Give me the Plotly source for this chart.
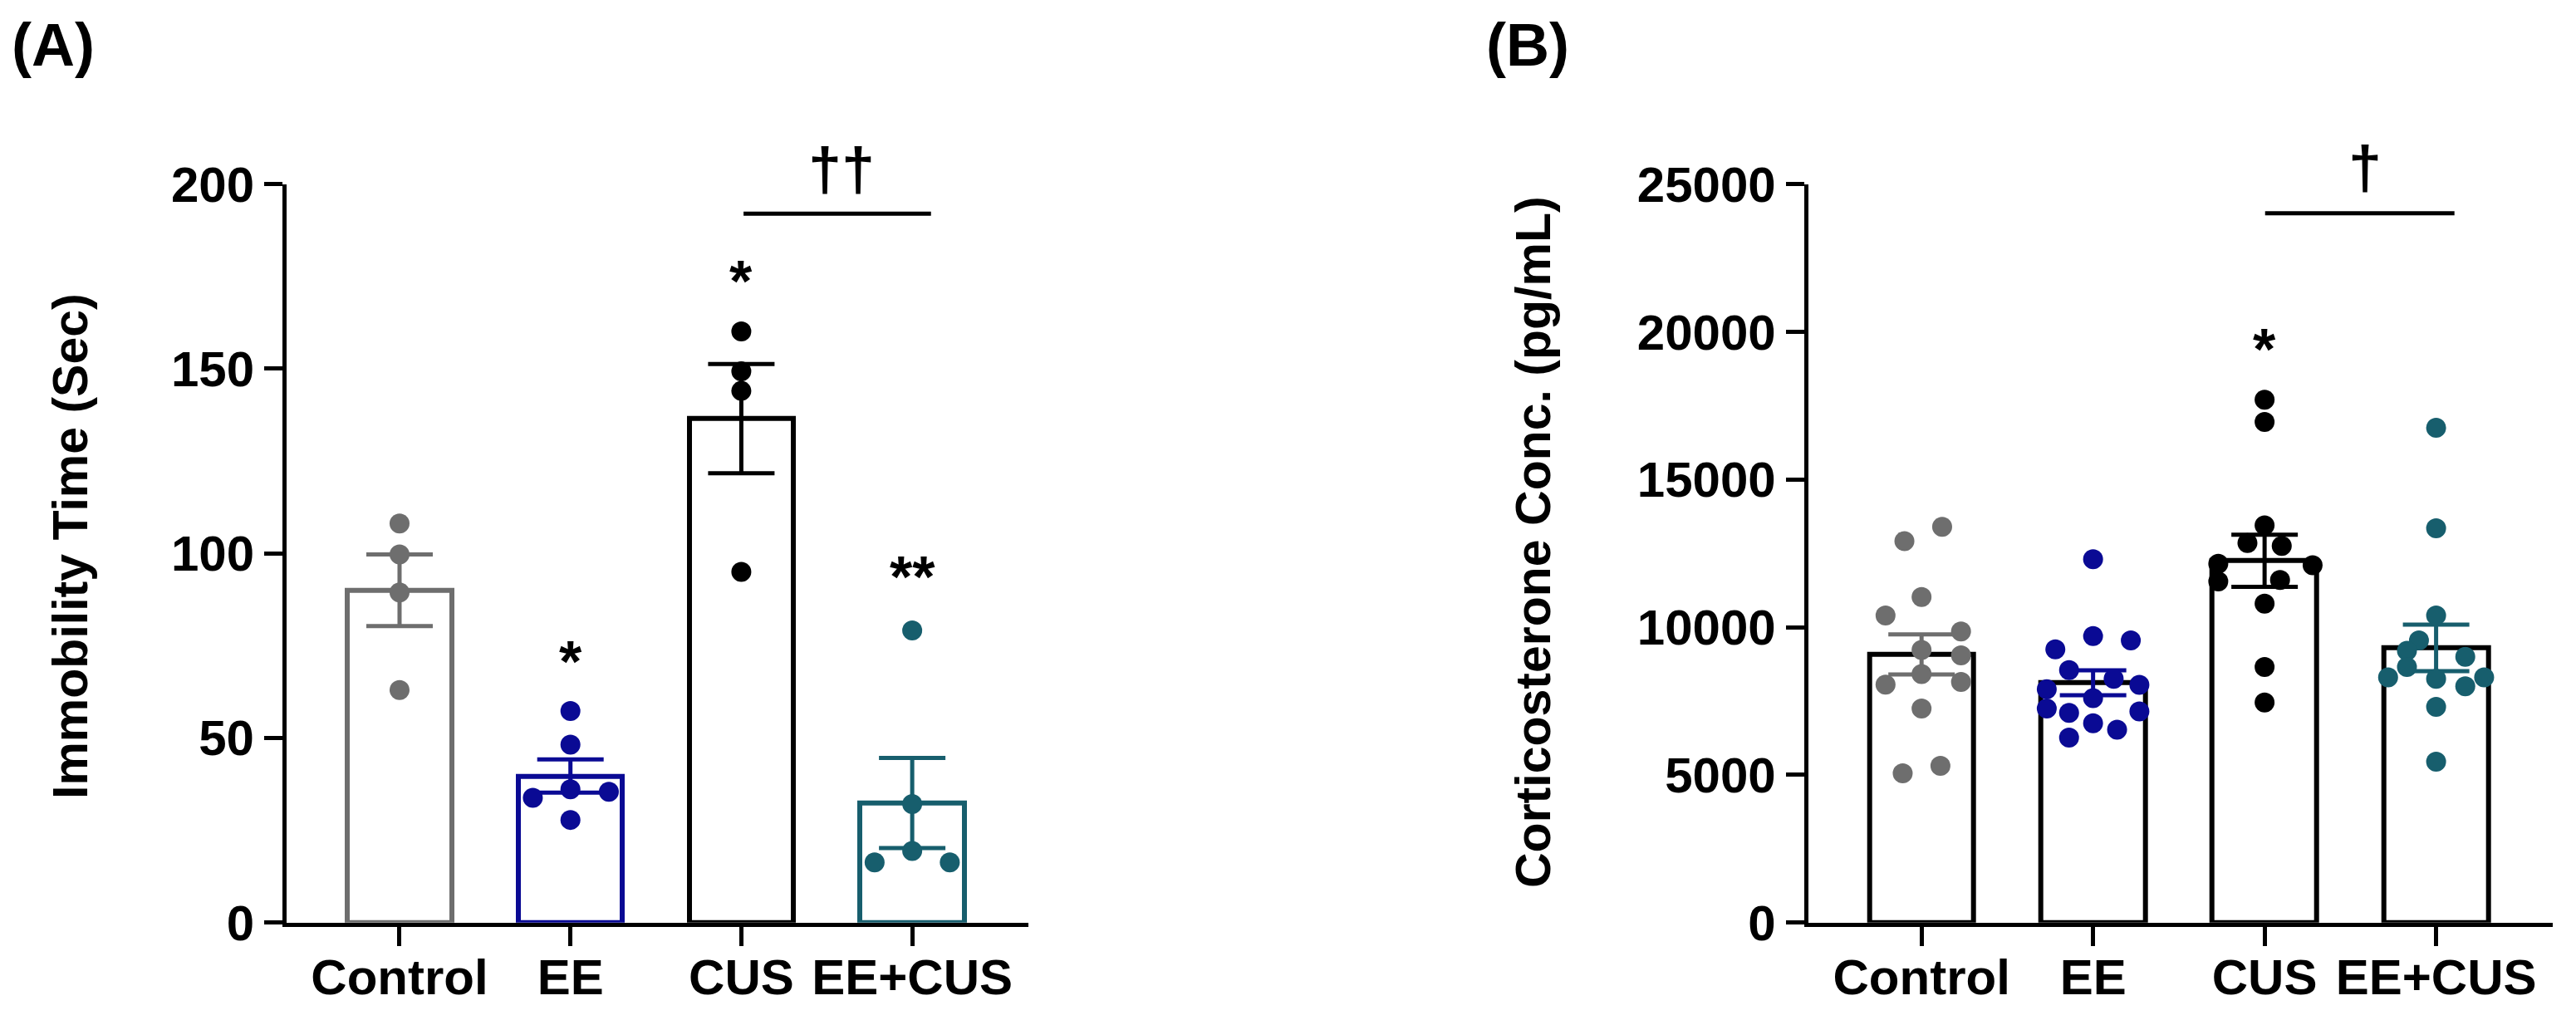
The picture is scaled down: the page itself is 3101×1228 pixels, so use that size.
import plotly.graph_objects as go

# ---------------- data ----------------
categories = ["Control", "EE", "CUS", "EE+CUS"]

# Panel A: Immobility time (sec)
a_means = [90.0, 39.7, 136.5, 32.4]
a_sem = [9.7, 4.5, 14.8, 12.2]
a_control = [108.1, 99.7, 89.4, 63.0]
a_ee = [57.3, 48.2, 33.8, 36.1, 35.4, 27.8]
a_cus = [160.1, 149.3, 144.0, 95.0]
a_eecus = [79.1, 32.1, 19.4, 16.3, 16.3]

# Panel B: Corticosterone conc. (pg/mL)
b_means = [9080, 8120, 12250, 9300]
b_sem = [680, 420, 880, 790]
b_control = [13400, 12914, 11025, 10396, 9856, 9227, 9047, 8417, 8058, 8148, 7248, 5054, 5306]
b_ee = [12300, 9700, 9550, 9250, 8550, 8250, 8050, 7900, 7600, 7100, 7250, 7150, 6750, 6530, 6260]
b_cus = [17700, 16950, 13450, 12850, 12750, 12150, 12100, 11550, 11600, 10800, 8650, 7450]
b_eecus = [16750, 13350, 10400, 9550, 9200, 9000, 8650, 8300, 8250, 8300, 8000, 7300, 5450]

a_y_ticks = [0, 50, 100, 150, 200]
a_y_labels = ["0", "50", "100", "150", "200"]
b_y_ticks = [0, 5000, 10000, 15000, 20000, 25000]
b_y_labels = ["0", "5000", "10000", "15000", "20000", "25000"]

# ---------------- layout helpers (horizontal jitter, category units) ----------------
a_jit = [
    [0, 0, 0, 0],
    [0, 0, -0.22, 0, 0.225, 0],
    [0, 0, 0, 0],
    [0, 0, 0, -0.22, 0.22],
]
b_jit = [
    [0.12, -0.10, 0, -0.21, 0.23, 0, 0.23, 0, -0.21, 0.23, 0, -0.11, 0.11],
    [0, 0, 0.22, -0.22, -0.14, 0.12, 0.27, -0.27, 0, -0.14, -0.27, 0.27, 0, 0.14, -0.14],
    [0, 0, 0, -0.10, 0.10, -0.27, 0.28, -0.27, 0.09, 0, 0, 0],
    [0, 0, 0, -0.1, -0.17, 0.17, -0.17, -0.28, 0, 0.28, 0.17, 0, 0],
]

GRAY = "#6e6e6e"
NAVY = "#0a0a94"
BLACK = "#000000"
TEAL = "#175e6d"
a_colors = [GRAY, NAVY, BLACK, TEAL]
b_point_colors = [GRAY, NAVY, BLACK, TEAL]

FONT = "Liberation Sans, Arial, sans-serif"
# page is 3101x1228; the html body keeps its default 8px margin
OFF = 8
W, H = 3101 - 2 * OFF, 1228 - 2 * OFF

def fx(p):  # page x pixel -> paper fraction
    return (p - OFF) / W

def fy(p):  # page y pixel -> paper fraction
    return 1 - (p - OFF) / H

fig = go.Figure()

xpos = list(range(len(categories)))

def add_panel(means, sem, groups, jit, bar_colors, err_colors, pt_colors, xa, ya):
    for i in range(len(categories)):
        fig.add_trace(go.Bar(
            x=[xpos[i]], y=[means[i]], width=0.61,
            marker=dict(color="white", line=dict(color=bar_colors[i], width=6)),
            error_y=dict(type="data", array=[sem[i]], visible=True,
                         color=err_colors[i], thickness=5, width=40),
            xaxis=xa, yaxis=ya, showlegend=False, hoverinfo="skip",
        ))
    for i, g in enumerate(groups):
        fig.add_trace(go.Scatter(
            x=[xpos[i] + d for d in jit[i]], y=g, mode="markers",
            marker=dict(color=pt_colors[i], size=24, line=dict(width=0)),
            xaxis=xa, yaxis=ya, showlegend=False, hoverinfo="skip",
        ))

add_panel(a_means, a_sem, [a_control, a_ee, a_cus, a_eecus], a_jit,
          a_colors, a_colors, a_colors, "x", "y")
add_panel(b_means, b_sem, [b_control, b_ee, b_cus, b_eecus], b_jit,
          [BLACK] * 4, [GRAY, NAVY, BLACK, TEAL], b_point_colors, "x2", "y2")

ydom = [fy(1110.7), fy(221.7)]
tickfont = dict(family=FONT, size=60, color="black", weight="bold")

common_x = dict(
    tickmode="array", tickvals=xpos, ticktext=categories,
    range=[-0.661, 3.68], showline=True, linecolor="black", linewidth=5,
    ticks="outside", ticklen=23, tickwidth=5, tickcolor="black",
    showgrid=False, zeroline=False, tickfont=tickfont, fixedrange=True,
    automargin=False, ticklabelstandoff=-14,
)
common_y = dict(
    tickmode="array",
    showline=True, linecolor="black", linewidth=5,
    ticks="outside", ticklen=22, tickwidth=5, tickcolor="black",
    showgrid=False, zeroline=False, tickfont=tickfont, domain=ydom,
    automargin=False,
)

fig.update_layout(
    template="none",
    width=W, height=H, margin=dict(l=0, r=0, t=0, b=0, autoexpand=False),
    paper_bgcolor="white", plot_bgcolor="white", bargap=0,
    xaxis=dict(common_x, domain=[fx(345), fx(1238)], anchor="y"),
    yaxis=dict(common_y, range=[0, 200], tickvals=a_y_ticks, ticktext=a_y_labels, anchor="x"),
    xaxis2=dict(common_x, domain=[fx(2176.7), fx(3073)], anchor="y2"),
    yaxis2=dict(common_y, range=[0, 25000], tickvals=b_y_ticks, ticktext=b_y_labels, anchor="x2"),
)

ann = []
lblfont = dict(family=FONT, size=72, color="black", weight="bold")
ann.append(dict(text="(A)", x=fx(64), y=fy(54), xref="paper", yref="paper",
                xanchor="center", yanchor="middle", showarrow=False, font=lblfont))
ann.append(dict(text="(B)", x=fx(1839), y=fy(54), xref="paper", yref="paper",
                xanchor="center", yanchor="middle", showarrow=False, font=lblfont))
titlefont = dict(family=FONT, size=59, color="black", weight="bold")
ann.append(dict(text="Immobility Time (Sec)", x=fx(85), y=fy(658), xref="paper", yref="paper",
                xanchor="center", yanchor="middle", textangle=-90, showarrow=False, font=titlefont))
ann.append(dict(text="Corticosterone Conc. (pg/mL)", x=fx(1846), y=fy(652), xref="paper", yref="paper",
                xanchor="center", yanchor="middle", textangle=-90, showarrow=False, font=titlefont))

starfont = dict(family=FONT, size=70, color="black", weight="bold")
dagfont = dict(family=FONT, size=72, color="black", weight="bold")
# Panel A significance marks
ann.append(dict(text="*", x=1, y=70.5, xref="x", yref="y", yanchor="middle", showarrow=False, font=starfont))
ann.append(dict(text="*", x=2, y=173.5, xref="x", yref="y", yanchor="middle", showarrow=False, font=starfont))
ann.append(dict(text="**", x=3, y=93.5, xref="x", yref="y", yanchor="middle", showarrow=False, font=starfont))
ann.append(dict(text="††", x=2.586, y=1.02, xref="x", yref="y domain", yanchor="middle",
                showarrow=False, font=dagfont))
# Panel B significance marks
ann.append(dict(text="*", x=2, y=19400, xref="x2", yref="y2", yanchor="middle", showarrow=False, font=starfont))
ann.append(dict(text="†", x=2.587, y=1.022, xref="x2", yref="y2 domain", yanchor="middle",
                showarrow=False, font=dagfont))

fig.update_layout(annotations=ann)

fig.add_shape(type="line", x0=2.013, x1=3.11, y0=192, y1=192, xref="x", yref="y",
              line=dict(color="black", width=5))
fig.add_shape(type="line", x0=2.003, x1=3.107, y0=24011, y1=24011, xref="x2", yref="y2",
              line=dict(color="black", width=5))

fig.write_html("out.html")
